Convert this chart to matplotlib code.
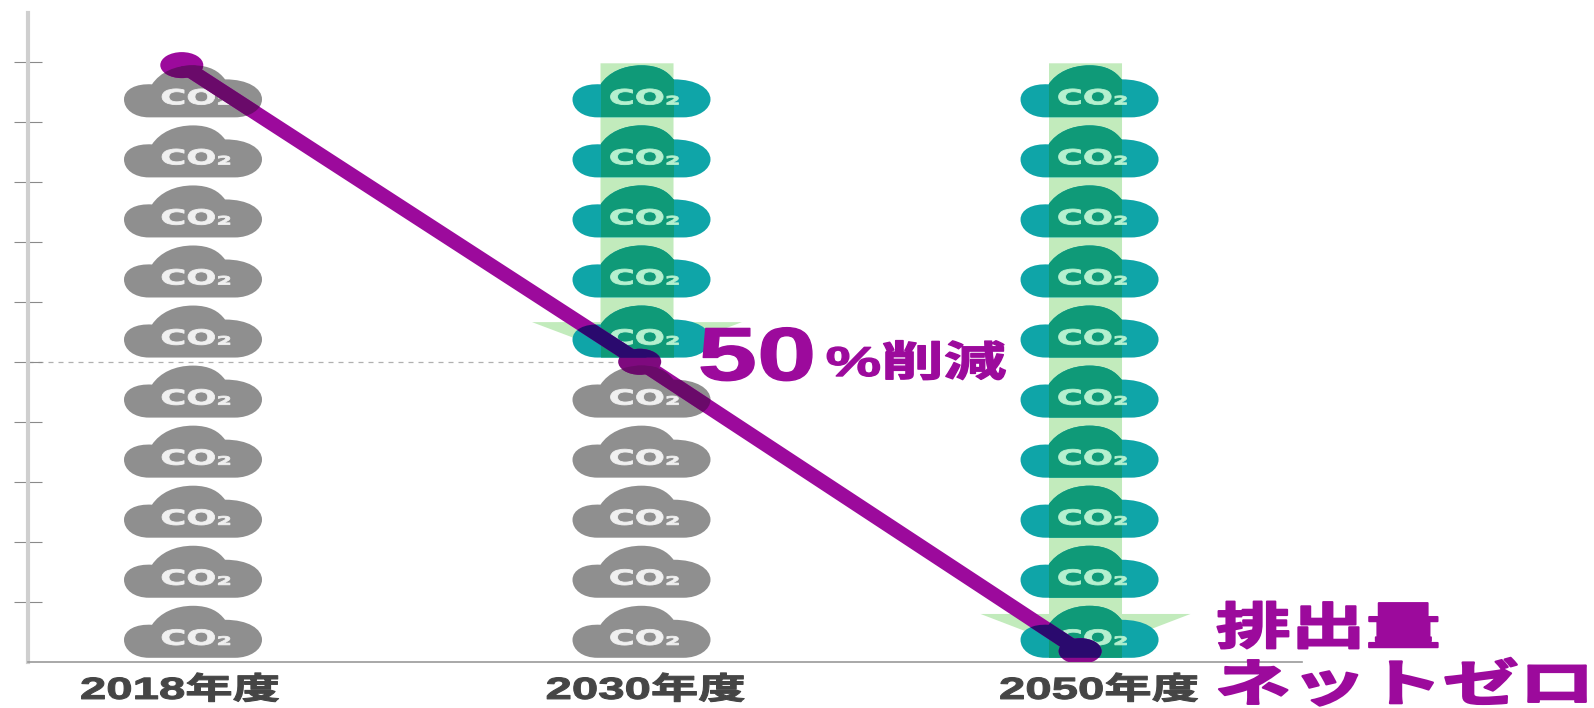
import matplotlib
matplotlib.use("Agg")
import matplotlib.pyplot as plt
from matplotlib.patches import Ellipse, PathPatch
from matplotlib.patheffects import AbstractPathEffect
from matplotlib.path import Path
from matplotlib.transforms import Affine2D

categories = ["2018年度", "2030年度", "2050年度"]
cloud_x = [0.0, 1.0, 1.999]
label_x = [-0.029, 1.009, 2.02]
y_ticks = [1, 2, 3, 4, 5, 6, 7, 8, 9, 10]
cloud_levels = [0.07, 1.07, 2.07, 3.07, 4.07, 5.07, 6.07, 7.07, 8.07, 9.07]

# number of clouds still emitted in each year (counted from the bottom)
gray_counts = [10, 5, 0]

line_x = [-0.025, 0.996, 1.978]
line_y = [9.94, 5.0, 0.18]
marker_colors = ["#9c0a9c", "#7e0a7e", "#8c0a8c"]

arrow_x = [0.99, 1.99]
arrow_top = [9.97, 9.97]
arrow_head = [5.66, 0.8]
arrow_tip = [5.0, 0.13]

PX_X = 448.5  # pixels per category
PX_Y = 60.05  # pixels per y unit

PURPLE = "#9c0a9c"
GRAY = "#8f8f8f"
TEAL = "#0fa5a8"
GREEN = "#0f9a78"
PALE = "#c2ebbc"

JP = ["Liberation Sans", "Noto Sans CJK JP", "DejaVu Sans"]


class Widen(AbstractPathEffect):
    # stretches a text's glyphs sideways around their own centre, with an optional heavier outline
    def __init__(self, factor, stroke=0):
        super().__init__()
        self.factor = factor
        self.stroke = stroke

    def draw_path(self, renderer, gc, tpath, affine, rgbFace=None):
        box = tpath.get_extents(affine)
        cx = (box.x0 + box.x1) / 2
        wide = affine + Affine2D().translate(-cx, 0).scale(self.factor, 1).translate(cx, 0)
        gc0 = renderer.new_gc()
        gc0.copy_properties(gc)
        if self.stroke:
            gc0.set_foreground(rgbFace)
            gc0.set_linewidth(self.stroke)
        renderer.draw_path(gc0, tpath, wide, rgbFace)
        gc0.restore()


def cloud_path():
    verts = [(-44, 0),
             (-59, 0), (-69, 8), (-69, 18),
             (-69, 28), (-57, 34), (-41, 33),
             (-33, 45), (-18, 52), (0, 52),
             (17, 52), (26, 46), (32, 38),
             (55, 38), (69, 29), (69, 18),
             (69, 8), (57, 0), (42, 0),
             (-44, 0)]
    codes = [Path.MOVETO] + [Path.CURVE4] * 18 + [Path.CLOSEPOLY]
    return Path(verts, codes)


def draw_overlay(ax, patch, color):
    # darker part of the trend where it crosses a cloud
    ln, = ax.plot(line_x, line_y, color=color, lw=10.5, solid_capstyle="butt", zorder=6)
    ln.set_clip_path(patch)
    for x, y in zip(line_x, line_y):
        e = Ellipse((x, y), 43 / PX_X, 26 / PX_Y, color=color, lw=0, zorder=7)
        ax.add_patch(e)
        e.set_clip_path(patch)


fig = plt.figure(figsize=(15.94, 7.08), dpi=100)
ax = fig.add_axes([28 / 1594, 1 - 662 / 708, 1274 / 1594, 649 / 708])
ax.set_xlim(-165 / PX_X, 1109 / PX_X)
ax.set_ylim(0, 649 / PX_Y)

for s in ["top", "right"]:
    ax.spines[s].set_visible(False)
ax.spines["left"].set_color("#cfcfcf")
ax.spines["left"].set_linewidth(3)
ax.spines["bottom"].set_color("#9a9a9a")
ax.spines["bottom"].set_linewidth(1.2)
ax.set_yticks(y_ticks)
ax.tick_params(axis="y", direction="inout", length=20, width=0.8, color="#8a8a8a", labelleft=False)
ax.set_xticks(label_x)
ax.set_xticklabels(categories, family=JP, fontweight="bold", fontsize=22, color="#454545",
                   path_effects=[Widen(1.55, 0.8)])
ax.tick_params(axis="x", length=0, pad=10)

ax.plot([ax.get_xlim()[0], line_x[1]], [line_y[1], line_y[1]], color="#b0b0b0", lw=0.9,
        dashes=(4, 4), zorder=1)

# pale reduction arrows behind the clouds
bands = []
for x, top, head, tip in zip(arrow_x, arrow_top, arrow_head, arrow_tip):
    half = 36.5 / PX_X
    wing = 105 / PX_X
    xs = [x - half, x + half, x + half, x + wing, x, x - wing, x - half]
    ys = [top, top, head, head, tip, head, head]
    ax.fill(xs, ys, color=PALE, lw=0, zorder=2)
    bands.append(xs[:2])

for i, x in enumerate(cloud_x):
    for j, level in enumerate(cloud_levels):
        tr = Affine2D().scale(1 / PX_X, 1 / PX_Y).translate(x, level) + ax.transData
        is_gray = j < gray_counts[i]
        cloud = PathPatch(cloud_path(), transform=tr, color=GRAY if is_gray else TEAL, lw=0, zorder=3)
        ax.add_patch(cloud)
        if not is_gray:
            # the arrow shows through the cloud as a greener strip
            x0, x1 = bands[i - 1]
            strip = ax.fill([x0, x1, x1, x0], [level, level, level + 1, level + 1],
                            color=GREEN, lw=0, zorder=3.5)[0]
            strip.set_clip_path(cloud)
        ax.text(x + 3 / PX_X, level + 13 / PX_Y, "CO\u2082", family="DejaVu Sans", fontweight="bold",
                fontsize=15, ha="center", va="baseline", zorder=4,
                color="#f0f0f0" if is_gray else "#b5f0cf", path_effects=[Widen(1.7, 0.6)])
        draw_overlay(ax, cloud, "#6a0a6a" if is_gray else "#2a0a6e")

ax.plot(line_x, line_y, color=PURPLE, lw=10.5, solid_capstyle="butt", zorder=5)
for x, y, c in zip(line_x, line_y, marker_colors):
    ax.add_patch(Ellipse((x, y), 43 / PX_X, 26 / PX_Y, color=c, lw=0, zorder=5.5))

# callouts, placed in figure fractions because they run past the axes
fig.text(757 / 1594, 1 - 380 / 708, "50", family=JP, fontweight="bold", fontsize=54, color=PURPLE,
         ha="center", va="baseline", path_effects=[Widen(1.42, 1)], zorder=8)
fig.text(916 / 1594, 1 - 376 / 708, "%削減", family=JP, fontweight="bold", fontsize=30, color=PURPLE,
         ha="center", va="baseline", path_effects=[Widen(1.5, 1)], zorder=8)
fig.text(1328 / 1594, 1 - 644 / 708, "排出量", family=JP, fontweight="bold", fontsize=36, color=PURPLE,
         ha="center", va="baseline", path_effects=[Widen(1.5, 1.4)], zorder=8)
fig.text(1404 / 1594, 1 - 701 / 708, "ネットゼロ", family=JP, fontweight="bold", fontsize=36, color=PURPLE,
         ha="center", va="baseline", path_effects=[Widen(1.52, 1.6)], zorder=8)

fig.savefig("out.png", dpi=100)
